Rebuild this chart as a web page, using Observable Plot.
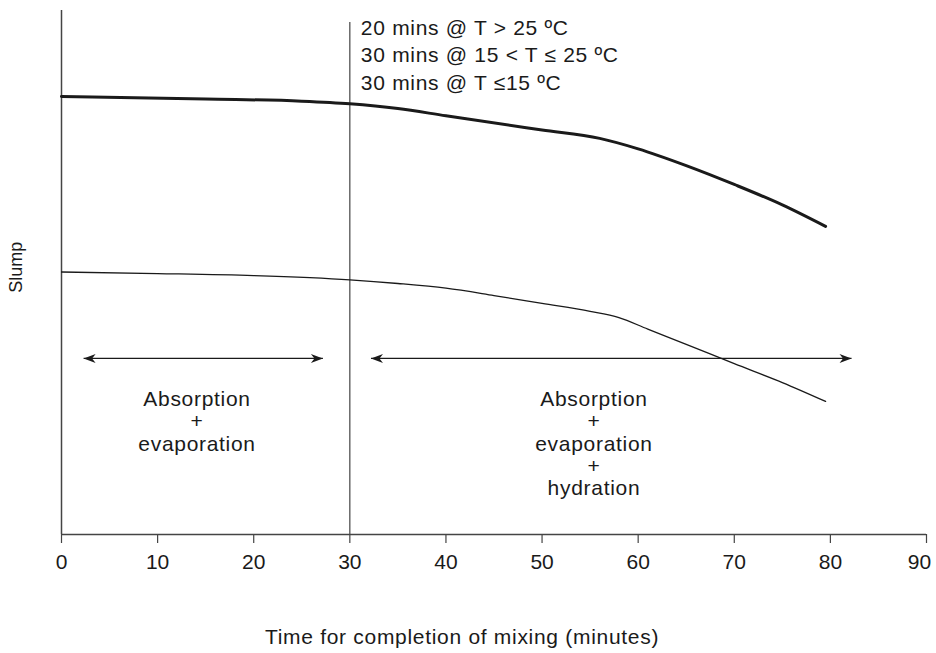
<!DOCTYPE html>
<html>
<head>
<meta charset="utf-8">
<script src="https://cdn.jsdelivr.net/npm/d3@7"></script>
<script src="https://cdn.jsdelivr.net/npm/@observablehq/plot@0.6"></script>
<style>
  html, body { margin: 0; padding: 0; background: #fff; }
  #chart { width: 936px; height: 653px; }
  svg { font-family: "Liberation Sans", Arial, sans-serif; }
</style>
</head>
<body>
<div id="chart"></div>
<script>
// ---- Data ----
const xTicks = [0, 10, 20, 30, 40, 50, 60, 70, 80, 90];

// Upper (thick) slump curve
const upperTime  = [0, 15, 25, 30, 35, 40, 50, 56, 60, 65, 70, 75, 79.5];
const upperSlump = [83.6, 83.1, 82.7, 82.2, 81.3, 79.9, 77.2, 75.6, 73.6, 70.4, 66.8, 62.9, 58.8];

// Lower (thin) slump curve
const lowerTime  = [0, 10, 20, 30, 35, 40, 45, 50, 55, 58, 61, 65, 70, 75, 79.5];
const lowerSlump = [50.1, 49.8, 49.4, 48.6, 47.9, 47.0, 45.6, 44.1, 42.6, 41.4, 39.2, 36.3, 32.6, 29.0, 25.4];

// Time limit marker
const limitTime = 30;

// Double-headed arrows for the phases
const phaseStart = [2.3, 32.2];
const phaseEnd   = [27.2, 82.2];
const phaseLevel = 33.6;

const phaseLabels = ["Absorption\n+\nevaporation", "Absorption\n+\nevaporation\n+\nhydration"];
const phaseLabelX = [14.1, 55.4];

const tempNote = "20 mins @ T > 25 ºC\n30 mins @ 15 < T ≤ 25 ºC\n30 mins @ T ≤15 ºC";

const xLabel = "Time for completion of mixing (minutes)";
const yLabel = "Slump";

// ---- Build tables ----
const upper = upperTime.map((t, i) => ({t, s: upperSlump[i]}));
const lower = lowerTime.map((t, i) => ({t, s: lowerSlump[i]}));
const phases = phaseStart.map((a, i) => ({a, b: phaseEnd[i], y: phaseLevel}));
const heads = phases.flatMap(p => [{x: p.a, y: p.y, r: 180}, {x: p.b, y: p.y, r: 0}]);
const labels = phaseLabels.map((l, i) => ({l, x: phaseLabelX[i]}));
const lastTick = xTicks[xTicks.length - 1];

// Filled barbed arrow head, tip at origin, pointing right
const arrowHead = {
  draw(ctx) {
    ctx.moveTo(0, 0);
    ctx.lineTo(-12, -4.5);
    ctx.lineTo(-8.5, 0);
    ctx.lineTo(-12, 4.5);
    ctx.closePath();
  }
};

const ink = "#1a1a1a";
const axisInk = "#444";
const fs = 21;

const chart = Plot.plot({
  width: 936,
  height: 653,
  marginLeft: 61,
  marginRight: 10,
  marginTop: 10,
  marginBottom: 119,
  style: {fontFamily: '"Liberation Sans", Arial, sans-serif', fontSize: fs + "px", color: ink, background: "#fff"},
  x: {domain: [0, 90], label: null},
  y: {domain: [0, 100], axis: null},
  marks: [
    Plot.axisX({ticks: xTicks, tickFormat: d => d === lastTick ? "" : String(d), tickSize: 9, tickPadding: 11, fontSize: fs, stroke: axisInk, strokeWidth: 1.2, label: null}),
    Plot.text([lastTick], {x: d => d, frameAnchor: "bottom", lineAnchor: "top", dy: 20, dx: -7, fontSize: fs, fill: ink}),
    Plot.ruleY([0], {stroke: axisInk, strokeWidth: 1.5}),
    Plot.ruleX([0], {stroke: axisInk, strokeWidth: 1.5}),
    Plot.ruleX([limitTime], {y1: 0, y2: 97.7, stroke: axisInk, strokeWidth: 1.2}),
    Plot.line(upper, {x: "t", y: "s", curve: "monotone-x", stroke: ink, strokeWidth: 3}),
    Plot.line(lower, {x: "t", y: "s", curve: "monotone-x", stroke: ink, strokeWidth: 1.3}),
    Plot.link(phases, {x1: "a", x2: "b", y1: "y", y2: "y", stroke: ink, strokeWidth: 1.2}),
    Plot.dot(heads, {x: "x", y: "y", rotate: "r", symbol: arrowHead, fill: ink, stroke: "none", r: 6}),
    Plot.text(labels, {x: "x", y: phaseLevel, text: "l", lineAnchor: "top", lineHeight: 1.06, dy: 32, fontSize: fs, fill: ink}),
    Plot.text([tempNote], {x: limitTime, y: 91.8, textAnchor: "start", lineAnchor: "middle", lineHeight: 1.31, dx: 11, fontSize: fs, fill: ink}),
    Plot.text([xLabel], {frameAnchor: "bottom", dx: -32, dy: 109, fontSize: fs, fill: ink}),
    Plot.text([yLabel], {x: 0, y: 51, rotate: -90, dx: -45, fontSize: 18, fill: ink})
  ]
});

// Slightly wider letter spacing for the annotation texts, as in the reference
d3.select(chart).selectAll('g[aria-label="text"] text')
  .filter(function () {
    const t = this.textContent;
    return t !== yLabel && t !== String(lastTick);
  })
  .style("letter-spacing", "0.7px");

document.getElementById("chart").appendChild(chart);
</script>
</body>
</html>
